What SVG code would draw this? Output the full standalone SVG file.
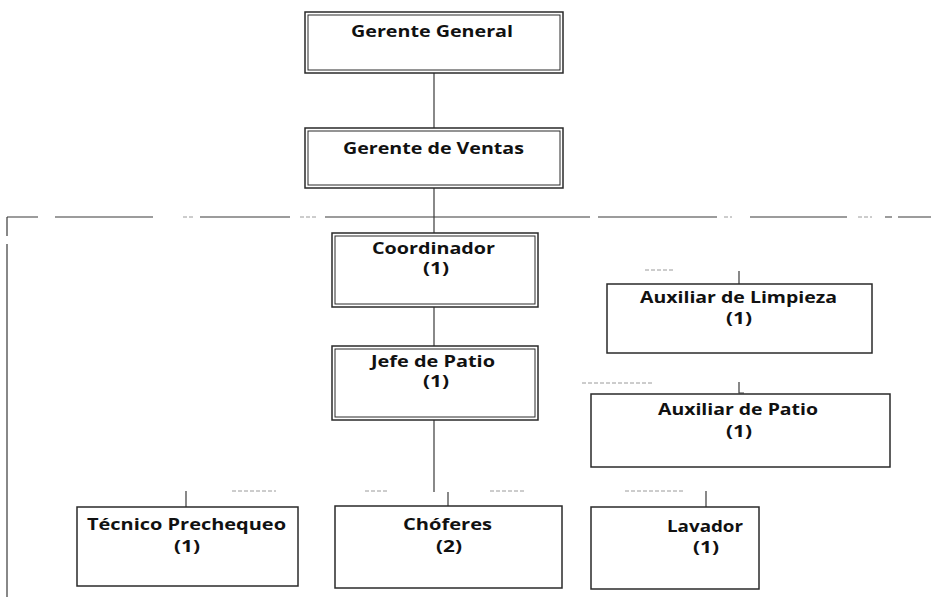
<svg xmlns="http://www.w3.org/2000/svg" width="931" height="597" viewBox="0 0 931 597">
<style>
.bg{fill:#ffffff}
.box{fill:#ffffff;stroke:#2a2a2a;stroke-width:1.5}
.inner{fill:none;stroke:#2a2a2a;stroke-width:1}
.line{fill:none;stroke:#3a3a3a;stroke-width:1.2}
.faint{fill:none;stroke:#9a9a9a;stroke-width:1;stroke-dasharray:4 2}
.lbl{font-family:"Open Sans","Liberation Sans",sans-serif;font-weight:bold;font-size:16px;fill:#111;text-anchor:middle}
</style>
<rect class="bg" x="0" y="0" width="931" height="597"/>
<g id="connectors">
  <line class="line" x1="434" y1="73" x2="434" y2="128"/>
  <line class="line" x1="434" y1="188" x2="434" y2="233"/>
  <line class="line" x1="434" y1="307" x2="434" y2="346"/>
  <line class="line" x1="434" y1="420" x2="434" y2="492"/>
  <path class="line" d="M7 217H38 M55 217H153 M200 217H290 M325 217H470 M470 217H590 M598 217H717 M750 217H847 M885 217H892 M898 217H931"/>
  <path class="faint" d="M183 217H195 M300 217H318 M724 217H732 M858 217H872"/>
  <path class="line" d="M7 217V236 M7 244V597"/>
  <line class="line" x1="739" y1="271" x2="739" y2="284"/>
  <path class="line" d="M739 382V393H744"/>
  <line class="line" x1="186" y1="491" x2="186" y2="507"/>
  <line class="line" x1="448" y1="492" x2="448" y2="506"/>
  <line class="line" x1="706" y1="491" x2="706" y2="507"/>
  <path class="faint" d="M645 270H675 M582 383H653 M232 491H276 M365 491H388 M490 491H525 M625 491H685"/>
</g>
<g id="gerente-general">
  <rect class="box" x="305" y="12" width="258" height="61"/>
  <rect class="inner" x="308" y="15" width="252" height="55"/>
  <text class="lbl" x="432" y="37" textLength="162" lengthAdjust="spacingAndGlyphs">Gerente General</text>
</g>
<g id="gerente-ventas">
  <rect class="box" x="305" y="128" width="258" height="60"/>
  <rect class="inner" x="308" y="131" width="252" height="54"/>
  <text class="lbl" x="433.5" y="154" textLength="181" lengthAdjust="spacingAndGlyphs">Gerente de Ventas</text>
</g>
<g id="coordinador">
  <rect class="box" x="332" y="233" width="206" height="74"/>
  <rect class="inner" x="335" y="236" width="200" height="68"/>
  <text class="lbl" x="433.5" y="254" textLength="123" lengthAdjust="spacingAndGlyphs">Coordinador</text>
  <text class="lbl" x="436" y="274" textLength="26" lengthAdjust="spacingAndGlyphs">(1)</text>
</g>
<g id="jefe-patio">
  <rect class="box" x="332" y="346" width="206" height="74"/>
  <rect class="inner" x="335" y="349" width="200" height="68"/>
  <text class="lbl" x="433" y="367" textLength="124" lengthAdjust="spacingAndGlyphs">Jefe de Patio</text>
  <text class="lbl" x="436" y="387" textLength="26" lengthAdjust="spacingAndGlyphs">(1)</text>
</g>
<g id="auxiliar-limpieza">
  <rect class="box" x="607" y="284" width="265" height="69"/>
  <text class="lbl" x="738.5" y="303" textLength="197" lengthAdjust="spacingAndGlyphs">Auxiliar de Limpieza</text>
  <text class="lbl" x="739" y="324" textLength="26" lengthAdjust="spacingAndGlyphs">(1)</text>
</g>
<g id="auxiliar-patio">
  <rect class="box" x="591" y="394" width="299" height="73"/>
  <text class="lbl" x="738" y="415" textLength="160" lengthAdjust="spacingAndGlyphs">Auxiliar de Patio</text>
  <text class="lbl" x="739" y="437" textLength="26" lengthAdjust="spacingAndGlyphs">(1)</text>
</g>
<g id="tecnico-prechequeo">
  <rect class="box" x="77" y="507" width="221" height="79"/>
  <text class="lbl" x="186.5" y="530" textLength="199" lengthAdjust="spacingAndGlyphs">Técnico Prechequeo</text>
  <text class="lbl" x="187" y="552" textLength="26" lengthAdjust="spacingAndGlyphs">(1)</text>
</g>
<g id="choferes">
  <rect class="box" x="335" y="506" width="227" height="82"/>
  <text class="lbl" x="447.5" y="530" textLength="89" lengthAdjust="spacingAndGlyphs">Chóferes</text>
  <text class="lbl" x="449" y="552" textLength="26" lengthAdjust="spacingAndGlyphs">(2)</text>
</g>
<g id="lavador">
  <rect class="box" x="591" y="507" width="168" height="82"/>
  <text class="lbl" x="705" y="532" textLength="76" lengthAdjust="spacingAndGlyphs">Lavador</text>
  <text class="lbl" x="706" y="553" textLength="26" lengthAdjust="spacingAndGlyphs">(1)</text>
</g>
</svg>
